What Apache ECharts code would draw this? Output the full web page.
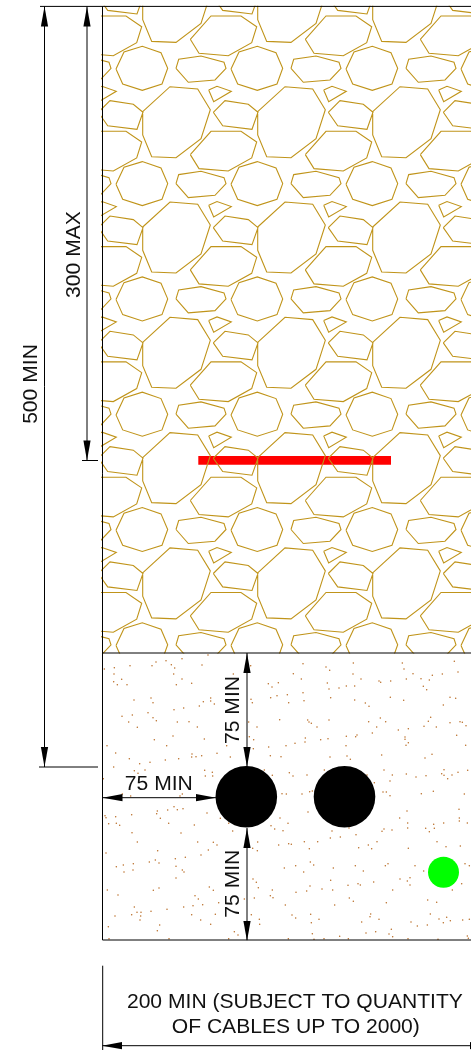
<!DOCTYPE html>
<html><head><meta charset="utf-8">
<style>html,body{margin:0;padding:0;background:#fff}#c{width:471px;height:1050px}</style>
<script src="https://cdn.jsdelivr.net/npm/echarts@6/dist/echarts.min.js"></script>
</head><body><div id="c"></div>
<script>
// Rock hatch: one repeating tile of polygons
const bigRock=[[142.7,111.7],[170,86.7],[197.7,89],[210.3,109.7],[201,138.7],[176,157.7],[151.7,156.7],[142.7,135]];
const octRock=[[116,69],[124,52],[142.3,46.3],[161,52.7],[167.7,68.3],[162,84],[142.3,90.3],[122.7,84]];
const flatRock=[[176,68.3],[178.7,59.3],[201,56],[224,62.3],[226,68.3],[215,80],[188.3,82.3]];
const smallRock=[[208.7,90],[217,86.3],[231.3,91.3],[213.7,101.7]];
const hexRock=[[213.3,112.3],[225,100.7],[248.3,104.3],[258,112.3],[252,129.3],[222.7,125.7]];
const wideRock=[[190.3,39.3],[211,16],[241,16],[256.7,26.7],[251.7,42.7],[228.3,55.7],[199,53.3]];
const tileRocks=[bigRock,octRock,flatRock,smallRock,hexRock,wideRock];
const tileColumns=[-1,0,1,2,3];
const tileRows=[-1,0,1,2,3,4,5];
const tileStepX=115, tileStepY=115.3;

const stippleUpper=[[313,57],[343,53],[342,72],[390,47],[365,88],[341,95],[352,104],[381,104],[456,47],[468,36],[498,32],[514,44],[524,54],[521,72],[546,26],[624,15],[606,45],[546,87],[529,104],[575,100],
[402,150],[453,144],[459,158],[522,179],[551,174],[598,168],[610,155],[632,144],[632,153],[643,162],[366,199],[397,195],[444,188],[459,203],[469,212],[386,216],[412,232],[532,216],[567,215],[592,231],
[463,269],[519,258],[613,267],[500,287],[321,287],[347,309],[388,326],[419,341],[450,337],[496,330],[536,326],[576,312],[575,321],[588,320],[605,317],[651,310],[691,321],[680,287],
[341,351],[403,362],[414,370],[435,360],[310,386],[614,361],[616,378],[637,367],[638,378],[367,432],[392,438],[540,438],[547,432],
[395,494],[315,497],[318,503],[347,500],[326,521],[349,520],[359,526],[396,548],[472,483],[470,491],[481,505],[503,480],[522,470],[532,479],[549,476],[621,489],[506,520],[583,525],[543,549],[661,505],[686,520],[698,543],
[752,47],[700,72],[805,101],[816,111],[835,98],[880,71],[753,148],[757,158],[812,143],[831,137],[862,134],[866,158],[839,209],[746,216],[771,231],[748,260],[761,269],[760,296],[806,291],[858,287],[885,280],[811,317],[843,320],[793,360],[817,376],[868,368],[879,378],[846,431],[859,432],[840,504],[813,527],[824,537],[849,542],[864,520]];
const stippleRight=[[99,41],[168,51],[179,61],[250,39],[249,72],[273,87],[94,87],[172,99],[177,117],[207,114],[229,108],[254,108],[99,128],[102,152],[182,143],[254,150],[286,159],[297,169],
[327,93],[332,97],[362,93],[361,142],[401,151],[397,39],[402,57],[429,71],[409,87],[453,86],[478,90],[487,76],[517,72],[553,34],[564,66],[460,109],[470,119],[540,142],[557,145],[520,165],
[113,210],[117,216],[124,220],[141,231],[177,210],[296,215],[331,204],[347,215],[320,231],[307,249],[385,240],[415,236],[229,259],[261,255],[257,260],[152,269],[174,266],[106,264],[105,276],[228,287],[405,261],[405,268],[415,278],[408,286],
[475,214],[482,202],[462,229],[499,231],[540,218],[570,215],[577,217],[588,227],[560,256],[587,286],
[180,321],[231,318],[241,328],[335,315],[465,324],[486,313],[111,375],[163,360],[291,375],[342,360],[367,375],[360,393],[313,398],[409,372],[438,381],[468,377],[515,371],[522,376],[533,386],[546,375],[564,367],[522,359],[593,361],
[119,425],[127,423],[96,432],[339,426],[349,426],[360,437],[454,431],[490,424],[583,432],[114,486],[411,483],[389,504],[413,519],[413,534],[467,535],[478,545],[491,523],[493,535],[521,519],[567,478],[568,504],[568,513],[592,519],
[186,543],[237,534],[342,537],[336,544],[366,540],[258,554],[211,561],[181,564]];
const stippleLower=[[48,39],[142,6],[203,32],[323,6],[355,30],[333,45],[370,7],[381,15],[488,25],[502,32],[503,6],[566,15],[596,11],[604,13],[643,5],[658,26],[683,5],[806,23],[835,15],[845,26],[861,5],[955,25],[1041,5],[1068,20],[1111,18],
[79,80],[100,75],[102,96],[130,71],[129,90],[178,66],[196,60],[207,69],[256,56],[286,52],[258,79],[277,90],[282,96],[258,114],
[583,84],[617,77],[641,96],[661,66],[671,75],[730,84],[796,77],[820,93],[886,77],[894,71],[975,77],[1001,93],[1125,71],[1138,77],
[489,117],[499,127],[505,143],[722,121],[660,138],[696,147],[650,153],[618,157],[728,150],[774,136],[804,131],[811,135],[851,126],[908,150],[930,117],[952,123],[960,113],[960,135],[1087,150],[1115,131],
[52,150],[84,165],[190,151],[207,144],[358,141],[370,151],[315,167],[325,177],[309,197],[338,194],[386,188],[463,177],[493,174],[547,150],[541,167],[549,173],[586,195],[778,174],[790,184],[734,195],[889,188],[1013,180],[1040,187],
[133,201],[125,224],[141,217],[153,217],[152,228],[150,240],[183,214],[231,208],[281,201],[305,224],[332,240],[362,253],[376,223],[75,228],[55,260],[209,255],[202,272],[433,275],[444,285],
[484,224],[508,238],[509,253],[606,225],[617,234],[662,223],[687,238],[664,248],[667,281],[815,246],[842,222],[840,230],[867,238],[963,246],[982,258],[1012,255],[1021,222],[1047,237],[1060,248],[1070,232],[1081,242],[1118,240],[1138,238],
[828,279],[857,275],[897,282],[904,268],[908,290],[1132,288],[1135,295],[57,296],[237,296],[416,296],[595,296],[672,298],[702,296],[749,289],[775,296],[954,296],[1044,298]];

// Drawing lines: [x1,y1,x2,y2]
const outlineSegments=[[40,6.4,471,6.4],[102.5,6.4,102.5,940],[102.5,653,471,653],[102.5,940,471,940]];
const dimensionSegments=[[44.5,6.4,44.5,767],[87,6.4,87,460.5],[39,767,98,767],[82,460.5,98,460.5],
[247,653,247,767],[102.5,797.7,216,797.7],[247,828,247,940],[102.5,1045.7,471,1045.7],[102.7,965.7,102.7,1050]];
// Arrow tips: [x,y,dirX,dirY]
const arrowTips=[[44.5,6.4,0,1],[44.5,767,0,-1],[87,6.4,0,1],[87,460.5,0,-1],
[247,653,0,1],[247,767,0,-1],[102.5,797.7,1,0],[216,797.7,-1,0],[247,828,0,1],[247,941,0,-1],
[102,1045.7,1,0],[490,1045.7,-1,0]];
const redBar=[[198.3,460.3],[391,460.3]];
const cables=[[246.3,796.8],[344.5,796.8]];
const earthConductor=[[443.5,872.3]];
const labelTexts=['500 MIN','300 MAX','75 MIN','75 MIN','75 MIN','200 MIN (SUBJECT TO QUANTITY','OF CABLES UP TO 2000)'];
const labelAnchors=[[31.4,384],[73.8,254.5],[233.6,710],[158.8,784.2],[233.6,883.7],[294.9,1002.5],[295.8,1027.3]];
const labelTurned=[1,1,1,0,1,0,0];

const rockLine=[];
tileRows.forEach(r=>tileColumns.forEach(c=>tileRocks.forEach(p=>{
  p.forEach(q=>rockLine.push([q[0]+c*tileStepX,q[1]+r*tileStepY]));
  rockLine.push([p[0][0]+c*tileStepX,p[0][1]+r*tileStepY]);
  rockLine.push(['-','-']);
})));
const segLine=s=>s.flatMap(a=>[[a[0],a[1]],[a[2],a[3]],['-','-']]);
const stipple=[...stippleUpper.map(p=>[p[0]/3,650+p[1]/3]),
  ...stippleRight.map(p=>[270+p[0]/3,650+p[1]/3]),
  ...stippleLower.map(p=>[90+p[0]/3,840+p[1]/3])];

const lineBase={type:'line',symbol:'none',silent:true,connectNulls:false,animation:false};
const chart=echarts.init(document.getElementById('c'));
chart.setOption({
  animation:false,backgroundColor:'#fff',
  grid:[{left:0,top:0,width:471,height:1050,containLabel:false},
        {left:102.5,top:6.4,width:368.5,height:646.6,containLabel:false}],
  xAxis:[{type:'value',min:0,max:471,show:false,gridIndex:0},
         {type:'value',min:102.5,max:471,show:false,gridIndex:1}],
  yAxis:[{type:'value',min:0,max:1050,inverse:true,show:false,gridIndex:0},
         {type:'value',min:6.4,max:653,inverse:true,show:false,gridIndex:1}],
  series:[
    {...lineBase,name:'Red bar',data:redBar,z:1,lineStyle:{color:'#ff0000',width:8.7,cap:'butt'}},
    {...lineBase,name:'Rock',xAxisIndex:1,yAxisIndex:1,clip:true,data:rockLine,z:2,
     lineStyle:{color:'#c0941a',width:1.1,join:'miter'}},
    {type:'scatter',name:'Concrete',data:stipple,symbol:'circle',symbolSize:1.5,silent:true,z:2,
     itemStyle:{color:'#b86a22',opacity:1},animation:false},
    {...lineBase,name:'Outline',data:segLine(outlineSegments),z:3,lineStyle:{color:'#000',width:1}},
    {...lineBase,name:'Dimensions',data:segLine(dimensionSegments),z:4,lineStyle:{color:'#000',width:1}},
    {type:'scatter',name:'Cables',data:cables,symbolSize:61.6,silent:true,z:6,itemStyle:{color:'#000',opacity:1},animation:false},
    {type:'scatter',name:'Earth',data:earthConductor,symbolSize:31,silent:true,z:6,itemStyle:{color:'#00ff00',opacity:1},animation:false},
    {type:'custom',name:'Arrows',data:arrowTips,silent:true,z:7,animation:false,clip:false,
     encode:{x:0,y:1},
     renderItem:(p,api)=>{
       const t=api.coord([api.value(0),api.value(1)]),dx=api.value(2),dy=api.value(3),L=20,H=3.6;
       const bx=t[0]+dx*L,by=t[1]+dy*L;
       return {type:'polygon',shape:{points:[[t[0],t[1]],[bx-dy*H,by-dx*H],[bx+dy*H,by+dx*H]]},style:{fill:'#000'}};
     }},
    {type:'custom',name:'Labels',data:labelAnchors,silent:true,z:8,animation:false,clip:false,
     encode:{x:0,y:1},
     renderItem:(p,api)=>{
       const t=api.coord([api.value(0),api.value(1)]);
       return {type:'text',x:t[0],y:t[1],rotation:labelTurned[p.dataIndex]?Math.PI/2:0,
         style:{text:labelTexts[p.dataIndex],fill:'#111',font:'21.1px "Liberation Sans"',align:'center',verticalAlign:'middle'}};
     }}
  ]
});
</script></body></html>
